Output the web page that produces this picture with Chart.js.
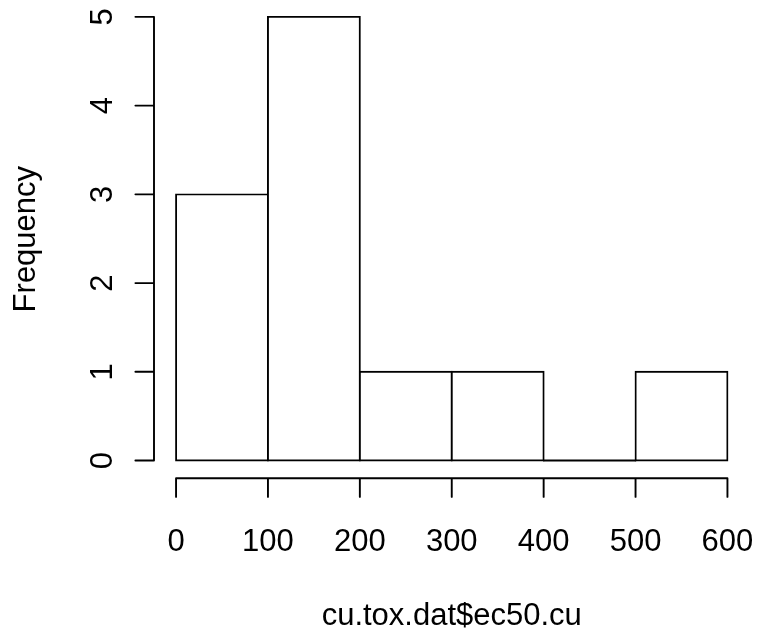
<!DOCTYPE html>
<html>
<head>
<meta charset="utf-8">
<script src="https://cdn.jsdelivr.net/npm/chart.js@4/dist/chart.umd.min.js"></script>
<style>
  html, body { margin: 0; padding: 0; background: #ffffff; }
  #wrap { width: 759px; height: 637px; }
</style>
</head>
<body>
<div id="wrap"><canvas id="hist" width="759" height="637"></canvas></div>
<script>
// Histogram bins (left edges), bin width and counts
const binStarts = [0, 100, 200, 300, 400, 500];
const binWidth = 100;
const counts = [3, 5, 1, 1, 0, 1];

// Axis tick values
const xTickValues = [0, 100, 200, 300, 400, 500, 600];
const yTickValues = [0, 1, 2, 3, 4, 5];

// Axis titles
const xLabel = 'cu.tox.dat$ec50.cu';
const yLabel = 'Frequency';

const font = { family: '"Liberation Sans", Arial, Helvetica, sans-serif', size: 31 };
const LINE_W = 1.9;
const TICK_LEN = 18.6;

// Each bar sits on the centre of its bin on a linear x scale
const points = binStarts.map((s, i) => ({ x: s + binWidth / 2, y: counts[i] }));

// Keep tick labels from shrinking the plotting area
function noEdgePadding(s) {
  s.paddingLeft = 0;
  s.paddingRight = 0;
  s.paddingTop = 0;
  s.paddingBottom = 0;
}

// Axis lines that span only the tick range, with outward ticks,
// plus the flat outline of empty bins
const baseAxes = {
  id: 'baseAxes',
  afterDraw(chart) {
    const { ctx, chartArea, scales } = chart;
    const xs = scales.x, ys = scales.y;
    ctx.save();
    ctx.strokeStyle = '#000';
    ctx.lineWidth = LINE_W;
    ctx.lineCap = 'round';
    ctx.beginPath();

    const yb = chartArea.bottom;
    ctx.moveTo(xs.getPixelForValue(xTickValues[0]), yb);
    ctx.lineTo(xs.getPixelForValue(xTickValues[xTickValues.length - 1]), yb);
    xTickValues.forEach(v => {
      const px = xs.getPixelForValue(v);
      ctx.moveTo(px, yb);
      ctx.lineTo(px, yb + TICK_LEN);
    });

    const xl = chartArea.left;
    ctx.moveTo(xl, ys.getPixelForValue(yTickValues[0]));
    ctx.lineTo(xl, ys.getPixelForValue(yTickValues[yTickValues.length - 1]));
    yTickValues.forEach(v => {
      const py = ys.getPixelForValue(v);
      ctx.moveTo(xl, py);
      ctx.lineTo(xl - TICK_LEN, py);
    });

    chart.getDatasetMeta(0).data.forEach(el => {
      const p = el.getProps(['x', 'y', 'base', 'width'], true);
      if (Math.abs(p.base - p.y) < 0.5) {
        ctx.moveTo(p.x - p.width / 2, p.y);
        ctx.lineTo(p.x + p.width / 2, p.y);
      }
    });

    ctx.stroke();
    ctx.restore();
  }
};

new Chart(document.getElementById('hist'), {
  type: 'bar',
  data: {
    datasets: [{
      data: points,
      backgroundColor: '#ffffff',
      borderColor: '#000000',
      borderWidth: LINE_W,
      borderSkipped: false,
      inflateAmount: LINE_W / 2,
      barPercentage: 1,
      categoryPercentage: 1
    }]
  },
  options: {
    responsive: false,
    animation: false,
    events: [],
    layout: { padding: { top: 0, right: 9.5, bottom: 0, left: 0 } },
    plugins: { legend: { display: false }, tooltip: { enabled: false } },
    scales: {
      x: {
        type: 'linear',
        min: -24,
        max: 624,
        offset: false,
        grid: { display: false },
        border: { display: false },
        ticks: {
          autoSkip: false, minRotation: 0, maxRotation: 0,
          padding: 37.4, color: '#000', font: font
        },
        title: {
          display: true, text: xLabel, color: '#000', font: font,
          padding: { top: 0, bottom: 1.6 }
        },
        afterBuildTicks: s => { s.ticks = xTickValues.map(v => ({ value: v })); },
        afterFit: s => { s.height = 158.7; noEdgePadding(s); }
      },
      y: {
        type: 'linear',
        min: -0.2,
        max: 5.19,
        grid: { display: false },
        border: { display: false },
        ticks: {
          autoSkip: false, minRotation: 90, maxRotation: 90, crossAlign: 'center',
          padding: 33.6, color: '#000', font: font
        },
        title: {
          display: true, text: yLabel, color: '#000', font: font,
          padding: { top: 7.7, bottom: 0 }
        },
        afterBuildTicks: s => { s.ticks = yTickValues.map(v => ({ value: v })); },
        afterFit: s => { s.width = 154; noEdgePadding(s); }
      }
    }
  },
  plugins: [baseAxes]
});
</script>
</body>
</html>
